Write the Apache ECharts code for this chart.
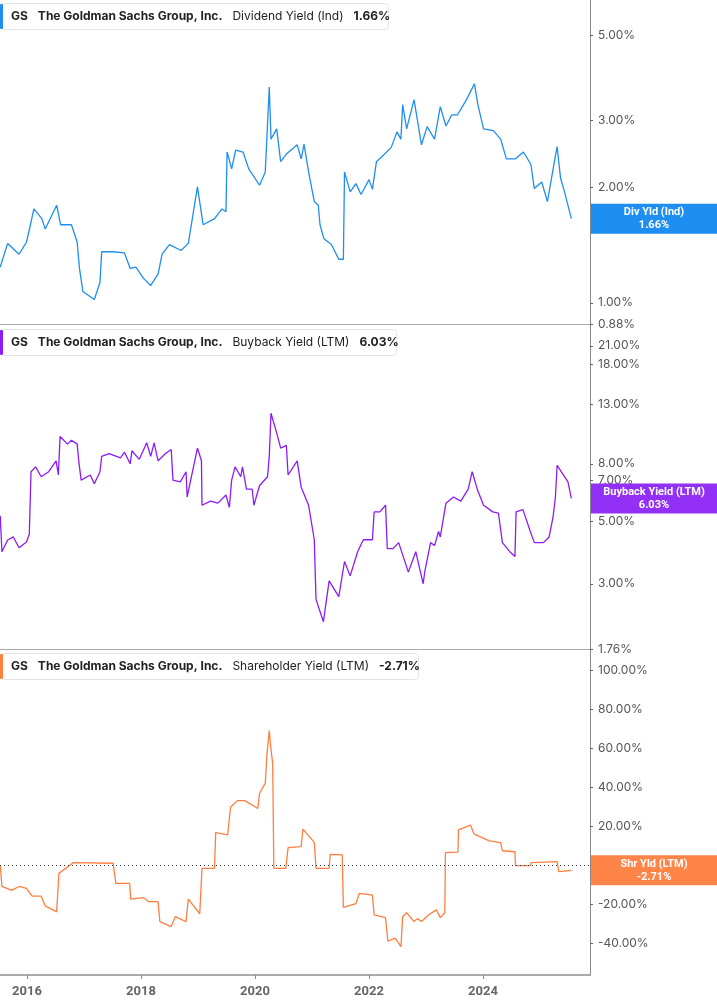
<!DOCTYPE html>
<html><head><meta charset="utf-8">
<script src="https://cdn.jsdelivr.net/npm/echarts@6/dist/echarts.min.js"></script>
<style>html,body{margin:0;padding:0;background:#fff}#c{width:717px;height:1005px}</style>
</head><body><div id="c"></div>
<script>
// Dividend yield (%)
const divX = [2015.53,2015.66,2015.86,2015.99,2016.06,2016.12,2016.26,2016.32,2016.52,2016.59,2016.78,2016.88,2016.92,2016.98,2017.18,2017.28,2017.31,2017.51,2017.71,2017.81,2017.91,2018.04,2018.17,2018.30,2018.37,2018.50,2018.70,2018.83,2018.90,2018.99,2019.09,2019.29,2019.42,2019.49,2019.51,2019.59,2019.66,2019.79,2019.89,2020.08,2020.18,2020.25,2020.28,2020.38,2020.45,2020.55,2020.74,2020.81,2020.86,2020.94,2021.04,2021.11,2021.14,2021.21,2021.34,2021.47,2021.55,2021.57,2021.67,2021.77,2021.86,2022.00,2022.06,2022.13,2022.26,2022.39,2022.49,2022.56,2022.59,2022.66,2022.79,2022.92,2023.02,2023.15,2023.25,2023.35,2023.45,2023.55,2023.71,2023.85,2023.91,2024.01,2024.18,2024.31,2024.41,2024.57,2024.71,2024.84,2024.90,2025.03,2025.13,2025.23,2025.30,2025.36,2025.43,2025.55];
const divY = [1.24,1.43,1.34,1.44,1.60,1.76,1.66,1.56,1.80,1.60,1.60,1.44,1.23,1.07,1.02,1.13,1.36,1.36,1.35,1.23,1.24,1.16,1.11,1.19,1.34,1.42,1.37,1.43,1.66,2.01,1.60,1.66,1.76,1.73,2.48,2.24,2.51,2.48,2.24,2.03,2.20,3.67,2.68,2.85,2.34,2.45,2.59,2.38,2.60,2.20,1.84,1.80,1.60,1.47,1.42,1.30,1.30,2.20,1.95,2.05,1.92,2.10,1.98,2.34,2.44,2.55,2.80,2.68,3.30,2.85,3.40,2.59,2.89,2.68,3.26,2.90,3.10,3.10,3.40,3.74,3.30,2.85,2.82,2.68,2.38,2.38,2.48,2.30,1.99,2.07,1.84,2.24,2.56,2.12,1.95,1.66];
// Buyback yield (%)
const bbX = [2015.53,2015.56,2015.66,2015.76,2015.86,2015.99,2016.04,2016.07,2016.15,2016.25,2016.38,2016.51,2016.55,2016.58,2016.71,2016.78,2016.88,2016.91,2016.95,2017.11,2017.18,2017.28,2017.31,2017.44,2017.64,2017.71,2017.81,2017.84,2017.97,2018.10,2018.17,2018.23,2018.30,2018.43,2018.53,2018.56,2018.69,2018.79,2018.81,2018.89,2018.99,2019.06,2019.07,2019.22,2019.35,2019.49,2019.55,2019.59,2019.65,2019.75,2019.78,2019.85,2019.95,2019.98,2020.08,2020.22,2020.25,2020.28,2020.38,2020.45,2020.55,2020.58,2020.74,2020.81,2020.94,2021.04,2021.07,2021.20,2021.30,2021.47,2021.57,2021.67,2021.80,2021.90,2022.06,2022.09,2022.19,2022.29,2022.32,2022.42,2022.52,2022.69,2022.82,2022.95,2022.98,2023.08,2023.15,2023.22,2023.25,2023.35,2023.48,2023.61,2023.74,2023.81,2023.91,2024.01,2024.17,2024.27,2024.34,2024.47,2024.56,2024.58,2024.70,2024.83,2024.90,2025.06,2025.16,2025.23,2025.27,2025.30,2025.43,2025.49,2025.55];
const bbY = [5.23,3.90,4.29,4.40,4.03,4.22,4.50,7.50,7.80,7.20,7.50,8.20,7.30,10.0,9.40,9.70,9.40,8.10,7.00,7.30,6.80,7.50,8.50,8.70,8.40,8.80,8.00,8.90,8.30,9.50,8.50,9.50,8.20,8.70,9.00,7.00,6.90,7.50,6.10,7.30,9.10,8.20,5.70,5.90,5.80,6.20,5.60,7.00,7.80,7.20,7.80,6.50,6.50,5.70,6.70,7.20,8.50,12.1,10.3,9.10,9.30,7.30,8.20,6.60,5.70,4.30,2.64,2.20,3.07,2.70,3.60,3.20,3.90,4.30,4.30,5.40,5.40,5.70,4.00,4.00,4.20,3.30,3.90,3.00,3.33,4.20,4.10,4.60,4.40,5.80,6.10,5.90,6.50,7.50,6.40,5.70,5.40,5.35,4.20,3.90,3.75,5.40,5.50,4.60,4.20,4.20,4.40,5.20,6.10,7.90,7.20,6.90,6.03];
// Shareholder yield (%)
const shX = [2015.53,2015.56,2015.73,2015.86,2015.99,2016.09,2016.25,2016.32,2016.52,2016.56,2016.57,2016.81,2016.83,2017.51,2017.56,2017.80,2017.82,2018.04,2018.14,2018.30,2018.33,2018.53,2018.60,2018.79,2018.83,2019.03,2019.07,2019.29,2019.31,2019.52,2019.57,2019.69,2019.82,2020.05,2020.08,2020.18,2020.21,2020.25,2020.27,2020.31,2020.33,2020.54,2020.58,2020.81,2020.84,2021.04,2021.07,2021.30,2021.32,2021.53,2021.55,2021.77,2021.83,2022.06,2022.09,2022.29,2022.33,2022.46,2022.56,2022.59,2022.66,2022.79,2022.85,2022.92,2023.05,2023.18,2023.25,2023.33,2023.34,2023.56,2023.57,2023.78,2023.84,2024.11,2024.31,2024.34,2024.56,2024.57,2024.83,2024.85,2025.30,2025.33,2025.55];
const shY = [0.0,-11,-13,-11,-12,-16,-16,-21,-24,-4.3,-4.3,1.2,1.2,0.9,-9.4,-9.4,-17.5,-16.7,-18.8,-18.8,-29,-31.6,-26.5,-29,-17.5,-25,-1.7,-1.7,16.6,15.5,29.6,33,33,29,36.8,42,57,69,62,52,-1.7,-1.7,8.9,9.4,18.4,11.6,-1.7,-1.7,5.5,5.2,-21.7,-19.8,-14.5,-15.5,-25.6,-27,-39,-37.5,-41.9,-26.5,-24.5,-29,-27.5,-29,-25.5,-23,-27,-24.5,6.3,6.6,18,20.5,16,12.4,11.5,7.3,6.8,-0.3,-0.3,1.2,1.7,-3.4,-2.71];

const yearTicks = [2016,2018,2020,2022,2024];
const divTicks = [0.88,1,2,3,5];
const bbTicks = [1.76,3,5,7,8,13,18,21];
const shTicks = [-40,-20,0,20,40,60,80,100];

const zip = (xs, ys, f) => xs.map((x, i) => [x, f ? f(ys[i]) : ys[i]]);
const ln = Math.log;
const X0 = 2015.526, X1 = 2015.526 + 590/57;
const grids = [
  {left:0, right:127, top:0, height:324},
  {left:0, right:127, top:325, height:324},
  {left:0, right:127, top:650, height:325}
];
const lbl = {color:'#555', fontSize:12, fontFamily:'Inter, Roboto, sans-serif', margin:8};
function xAxis(i, show){
  return {type:'value', gridIndex:i, min:X0, max:X1, position:'bottom',
    axisLine:{show:true, onZero:false, lineStyle:{color:'#aaa', width:show?2:1}},
    axisTick:{show:show, length:4, inside:false, customValues:yearTicks, lineStyle:{color:'#888'}},
    axisLabel:{show:show, customValues:yearTicks, color:'#666', fontWeight:'bold', fontSize:13, fontFamily:'Roboto, sans-serif', margin:10, formatter:v=>String(v)},
    splitLine:{show:false}};
}
function yAxis(i, min, max, ticks, toAxis, fmt){
  return {type:'value', gridIndex:i, position:'right', min:min, max:max, scale:true,
    axisLine:{show:true, onZero:false, lineStyle:{color:'#888'}},
    axisTick:{show:true, length:3, customValues:ticks.map(toAxis), lineStyle:{color:'#666'}},
    axisLabel:Object.assign({}, lbl, {customValues:ticks.map(toAxis), formatter:fmt}),
    splitLine:{show:false}};
}
const chart = echarts.init(document.getElementById('c'));
const blue = '#1f8ef1', purple = '#8c1cf5', orange = '#ff7f3f';
chart.setOption({
  animation:false,
  grid:grids,
  xAxis:[xAxis(0,false), xAxis(1,false), xAxis(2,true)],
  yAxis:[
    yAxis(0, ln(0.88), ln(0.88)+324/166, divTicks, ln, v=>Math.exp(v).toFixed(2)+'%'),
    yAxis(1, ln(1.76), ln(1.76)+324/122.3, bbTicks, ln, v=>Math.exp(v).toFixed(2)+'%'),
    yAxis(2, -56.41, 110.26, shTicks, v=>v, v=>v.toFixed(2)+'%')
  ],
  series:[
    {type:'line', xAxisIndex:0, yAxisIndex:0, data:zip(divX, divY, ln), showSymbol:false, lineStyle:{color:blue, width:1.3}, itemStyle:{color:blue}},
    {type:'line', xAxisIndex:1, yAxisIndex:1, data:zip(bbX, bbY, ln), showSymbol:false, lineStyle:{color:purple, width:1.3}, itemStyle:{color:purple}},
    {type:'line', xAxisIndex:2, yAxisIndex:2, data:zip(shX, shY), showSymbol:false, lineStyle:{color:orange, width:1.3}, itemStyle:{color:orange},
      markLine:{silent:true, symbol:'none', label:{show:false}, lineStyle:{color:'#333', type:[1,3], width:1}, data:[{yAxis:0}]}}
  ]
});
function header(y, color, metric, val){
  return {type:'group', left:0, top:y, z:100, children:[
    {type:'rect', shape:{x:3.5, y:0.5, width:source(metric), height:26, r:3}, style:{fill:'#fff', stroke:'#e4e4e4', lineWidth:1}},
    {type:'rect', shape:{x:3, y:1, width:3, height:25, r:1}, style:{fill:color}},
    {type:'text', x:14, y:7, style:{text:'{b|GS}   {b|The Goldman Sachs Group, Inc.}   {n|'+metric+'}   {b|'+val+'}',
      rich:{b:{fontWeight:'bold', fontSize:12, fontFamily:'Inter, sans-serif', fill:'#222'}, n:{fontSize:12, fontFamily:'Inter, sans-serif', fill:'#222'}}}}
  ]};
}
function source(m){ return {'Dividend Yield (Ind)':388, 'Buyback Yield (LTM)':396, 'Shareholder Yield (LTM)':418}[m]; }
function box(gi, color, l1, l2, yval){
  const py = chart.convertToPixel({yAxisIndex:gi}, yval);
  return {type:'group', z:200, children:[
    {type:'rect', z:200, shape:{x:591, y:py-15, width:126, height:30}, style:{fill:color}},
    {type:'text', z:201, x:654, y:py, style:{text:l1+'\n'+l2, fill:'#fff', fontWeight:'bold', fontSize:11, lineHeight:13, fontFamily:'Roboto, sans-serif', align:'center', verticalAlign:'middle'}}
  ]};
}
chart.setOption({graphic:[
  header(3, blue, 'Dividend Yield (Ind)', '1.66%'),
  header(329, purple, 'Buyback Yield (LTM)', '6.03%'),
  header(653, orange, 'Shareholder Yield (LTM)', '-2.71%'),
  box(0, '#1f8ef1', 'Div Yld (Ind)', '1.66%', ln(divY[divY.length-1])),
  box(1, '#9231f5', 'Buyback Yield (LTM)', '6.03%', ln(bbY[bbY.length-1])),
  box(2, '#ff8447', 'Shr Yld (LTM)', '-2.71%', -2.71)
]});
</script></body></html>
